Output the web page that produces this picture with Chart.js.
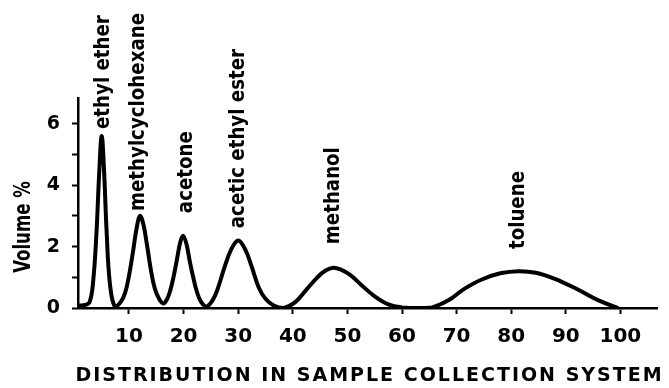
<!DOCTYPE html>
<html>
<head>
<meta charset="utf-8">
<script src="https://cdn.jsdelivr.net/npm/chart.js@4"></script>
<style>
  html, body { margin: 0; padding: 0; background: #fff; }
  #wrap { width: 669px; height: 388px; }
</style>
</head>
<body>
<div id="wrap"><canvas id="c" width="669" height="388"></canvas></div>
<script>
// ---- data ----
const distribution = [0.8, 2.0, 2.8, 3.4, 4.0, 4.6, 5.0, 5.4, 5.9, 6.5, 7.4,
  8.5, 9.3, 10.0, 10.7, 11.4, 12.0, 12.6, 13.3, 14.0, 14.7, 15.5, 16.3,
  17.0, 17.6, 18.2, 18.8, 19.4, 19.9, 20.5, 21.1, 21.7, 22.4, 23.2, 24.2,
  25.3, 26.2, 27.5, 28.7, 30.0, 31.3, 32.5, 33.8, 35.0, 36.5, 38.3,
  40.5, 42.5, 44.5, 46.0, 47.4, 48.8, 50.5, 52.5, 55.0, 57.5, 60.0, 63.0, 65.5,
  68.5, 71.2, 74.5, 78.0, 81.3, 84.5, 88.0, 92.2, 96.0, 99.6];
const volumePct = [0.08, 0.1, 0.2, 0.8, 2.3, 4.6, 5.6, 4.6, 2.5, 0.8, 0.05,
  0.2, 0.5, 1.05, 1.8, 2.6, 3.0, 2.75, 2.05, 1.25, 0.65, 0.3, 0.15,
  0.3, 0.6, 1.05, 1.6, 2.15, 2.35, 2.1, 1.55, 1.05, 0.55, 0.2, 0.05,
  0.25, 0.6, 1.33, 1.9, 2.2, 1.9, 1.33, 0.65, 0.3, 0.08, 0.0,
  0.2, 0.6, 1.0, 1.22, 1.31, 1.25, 1.08, 0.76, 0.38, 0.12, 0.02, 0.0, 0.02,
  0.25, 0.6, 0.92, 1.13, 1.2, 1.15, 0.95, 0.6, 0.25, 0.0];

const compounds = ["ethyl ether", "methylcyclohexane", "acetone", "acetic ethyl ester", "methanol", "toluene"];
const compoundLabelX = [5.33, 11.65, 20.4, 30.0, 47.5, 81.3];
const compoundLabelY = [5.83, 3.16, 3.09, 2.6, 2.08, 1.92];

const xTickValues = [10, 20, 30, 40, 50, 60, 70, 80, 90, 100];
const yTickValues = [0, 1, 2, 3, 4, 5, 6];
const yTickLabels = ["0", "", "2", "", "4", "", "6"];

const xTitle = "DISTRIBUTION IN SAMPLE COLLECTION SYSTEM";
const yTitle = "Volume %";

// ---- chart ----
const points = distribution.map((x, i) => ({ x: x, y: volumePct[i] }));

const annotate = {
  id: 'annotate',
  afterDraw(chart) {
    const ctx = chart.ctx;
    const xs = chart.scales.x, ys = chart.scales.y;
    ctx.save();
    ctx.fillStyle = '#000';
    // peak labels, rotated
    ctx.font = 'bold 22px "DejaVu Sans Condensed", "DejaVu Sans", sans-serif';
    ctx.textAlign = 'left';
    ctx.textBaseline = 'middle';
    compounds.forEach((name, i) => {
      const px = xs.getPixelForValue(compoundLabelX[i]);
      const py = ys.getPixelForValue(compoundLabelY[i]);
      ctx.save();
      ctx.translate(px, py);
      ctx.rotate(-Math.PI / 2);
      ctx.scale(0.92, 1);
      ctx.fillText(name, 0, 0);
      ctx.restore();
    });
    // y title
    ctx.save();
    ctx.font = 'bold 23px "DejaVu Sans Condensed", "DejaVu Sans", sans-serif';
    ctx.textAlign = 'center';
    ctx.textBaseline = 'middle';
    ctx.translate(24, (ys.top + ys.bottom) / 2 + 24);
    ctx.rotate(-Math.PI / 2);
    ctx.scale(0.8, 1);
    ctx.fillText(yTitle, 0, 0);
    ctx.restore();
    // x title
    ctx.save();
    ctx.font = 'bold 19px "DejaVu Sans", sans-serif';
    ctx.letterSpacing = '2px';
    ctx.textAlign = 'center';
    ctx.textBaseline = 'middle';
    ctx.fillText(xTitle, (xs.left + xs.right) / 2 + 2, 376);
    ctx.restore();
    ctx.restore();
  }
};

new Chart(document.getElementById('c'), {
  type: 'line',
  data: {
    datasets: [{
      data: points,
      borderColor: '#000',
      borderWidth: 4,
      pointRadius: 0,
      fill: false,
      tension: 0.4
    }]
  },
  options: {
    responsive: false,
    animation: false,
    layout: { padding: { top: 98, right: 12, left: 0, bottom: 0 } },
    plugins: { legend: { display: false }, tooltip: { enabled: false } },
    scales: {
      x: {
        type: 'linear',
        min: 0.66,
        max: 106.7,
        afterBuildTicks(scale) { scale.ticks = xTickValues.map(v => ({ value: v })); },
        afterFit(scale) { scale.height = 80; },
        ticks: {
          color: '#000',
          padding: 11,
          maxRotation: 0,
          autoSkip: false,
          font: { family: '"DejaVu Sans", sans-serif', weight: 'bold', size: 20 },
          callback: v => String(v)
        },
        grid: { drawOnChartArea: false, drawTicks: true, tickLength: 6, tickColor: '#000', tickWidth: 2 },
        border: { display: true, color: '#000', width: 2.5 }
      },
      y: {
        type: 'linear',
        min: 0,
        max: 6.84,
        afterBuildTicks(scale) { scale.ticks = yTickValues.map(v => ({ value: v })); },
        afterFit(scale) { scale.width = 78; },
        ticks: {
          color: '#000',
          padding: 12,
          autoSkip: false,
          font: { family: '"DejaVu Sans", sans-serif', weight: 'bold', size: 19 },
          callback: (v) => yTickLabels[yTickValues.indexOf(v)]
        },
        grid: { drawOnChartArea: false, drawTicks: true, tickLength: 6, tickColor: '#000', tickWidth: 2 },
        border: { display: true, color: '#000', width: 2.5 }
      }
    }
  },
  plugins: [annotate]
});
</script>
</body>
</html>
